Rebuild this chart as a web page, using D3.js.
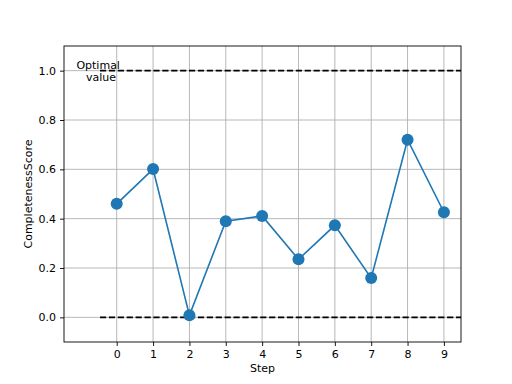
<!DOCTYPE html>
<html>
<head>
<meta charset="utf-8">
<script src="https://cdn.jsdelivr.net/npm/d3@7"></script>
<style>
  body { margin: 0; background: #fff; }
  text { font-family: "DejaVu Sans", sans-serif; }
</style>
</head>
<body>
<div id="chart"></div>
<script>
// data
var steps = [0, 1, 2, 3, 4, 5, 6, 7, 8, 9];
var scores = [0.46, 0.601, 0.008, 0.39, 0.411, 0.235, 0.373, 0.159, 0.72, 0.426];
var yTicks = [0.0, 0.2, 0.4, 0.6, 0.8, 1.0];
var optimalLevels = [0.0, 1.0];
var optimalStart = -0.46;

var W = 512, H = 384;
var margin = { top: 46, right: 51, bottom: 42, left: 64 },
    width = W - margin.left - margin.right,
    height = H - margin.top - margin.bottom;

var svg = d3.select("#chart")
    .append("svg")
    .attr("width", W)
    .attr("height", H)
    .append("g")
    .attr("transform", "translate(" + margin.left + "," + margin.top + ")");

var x = d3.scaleLinear().domain([-1.45, 9.47]).range([0, width]);
var y = d3.scaleLinear().domain([-0.1, 1.1]).range([height, 0]);

// grid
svg.append("g")
    .selectAll("line.gx")
    .data(steps)
    .enter()
    .append("line")
    .attr("x1", function (d) { return x(d) })
    .attr("x2", function (d) { return x(d) })
    .attr("y1", 0)
    .attr("y2", height)
    .attr("stroke", "#b0b0b0")
    .attr("stroke-width", 0.9)

svg.append("g")
    .selectAll("line.gy")
    .data(yTicks)
    .enter()
    .append("line")
    .attr("y1", function (d) { return y(d) })
    .attr("y2", function (d) { return y(d) })
    .attr("x1", 0)
    .attr("x2", width)
    .attr("stroke", "#b0b0b0")
    .attr("stroke-width", 0.9)

// dashed reference lines
svg.append("g")
    .selectAll("line.opt")
    .data(optimalLevels)
    .enter()
    .append("line")
    .attr("x1", x(optimalStart))
    .attr("x2", width)
    .attr("y1", function (d) { return y(d) })
    .attr("y2", function (d) { return y(d) })
    .attr("stroke", "#000")
    .attr("stroke-width", 1.6)
    .attr("stroke-dasharray", "6.2,2.7")

// the line
svg.append("path")
    .datum(steps)
    .attr("fill", "none")
    .attr("stroke", "#1f77b4")
    .attr("stroke-width", 1.6)
    .attr("d", d3.line()
        .x(function (d) { return x(d) })
        .y(function (d, i) { return y(scores[i]) })
    )

// the points
svg.append("g")
    .selectAll("circle")
    .data(steps)
    .enter()
    .append("circle")
    .attr("cx", function (d) { return x(d) })
    .attr("cy", function (d, i) { return y(scores[i]) })
    .attr("r", 6)
    .attr("fill", "#1f77b4")

// annotation
var ann = svg.append("text")
    .attr("text-anchor", "middle")
    .style("font-size", "11px")
    .style("fill", "#000")
ann.append("tspan").attr("x", x(-0.51)).attr("y", y(1.0) - 2).text("Optimal")
ann.append("tspan").attr("x", x(-0.43)).attr("y", y(1.0) + 10).text("value")

// axes
var xAxis = svg.append("g")
    .attr("transform", "translate(0," + height + ")")
    .call(d3.axisBottom(x).tickValues(steps).tickFormat(d3.format("d")).tickSize(4).tickPadding(4))
var yAxis = svg.append("g")
    .call(d3.axisLeft(y).tickValues(yTicks).tickFormat(d3.format(".1f")).tickSize(4).tickPadding(4))

;[xAxis, yAxis].forEach(function (a) {
    a.select(".domain").remove()
    a.selectAll("text").style("font-size", "11px").style("fill", "#000").style("font-family", "DejaVu Sans")
    a.selectAll("line").attr("stroke", "#000").attr("stroke-width", 0.9)
})

// frame
svg.append("rect")
    .attr("width", width)
    .attr("height", height)
    .attr("fill", "none")
    .attr("stroke", "#000")
    .attr("stroke-width", 0.9)

svg.append("text")
    .text("Step")
    .attr("x", width / 2)
    .attr("y", height + 30)
    .attr("text-anchor", "middle")
    .style("font-size", "11px")

svg.append("text")
    .text("CompletenessScore")
    .attr("transform", "translate(" + (-32) + "," + (height / 2) + ") rotate(-90)")
    .attr("text-anchor", "middle")
    .style("font-size", "11px")
</script>
</body>
</html>
